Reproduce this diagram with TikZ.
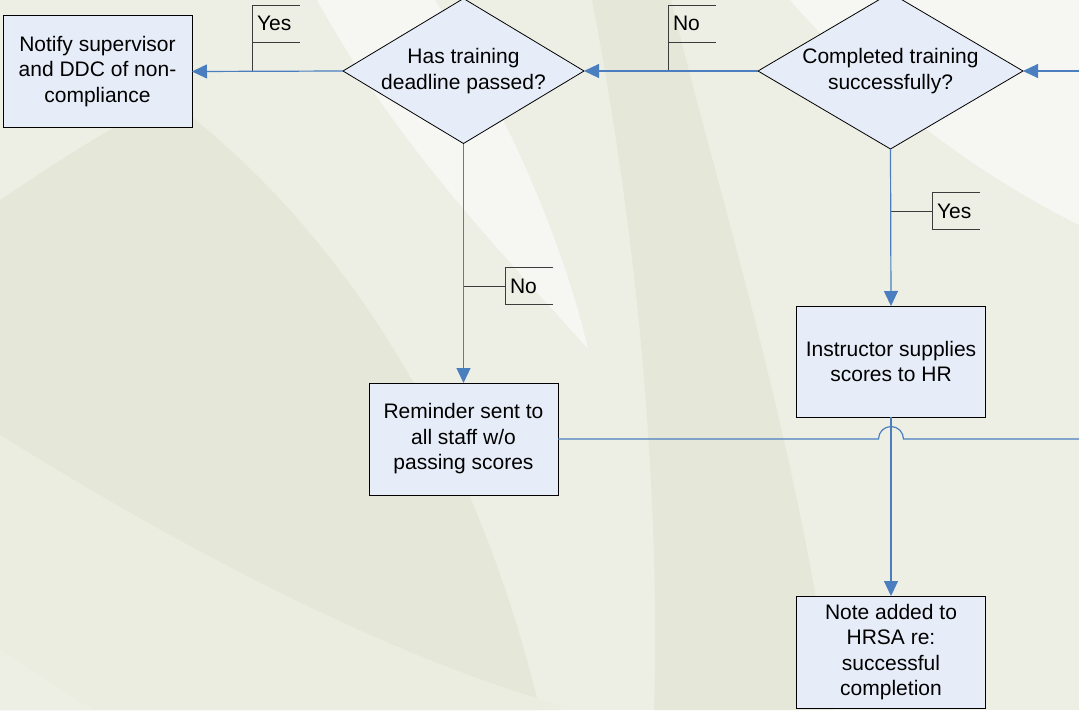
\documentclass[tikz,border=0pt]{standalone}
\usepackage{fontspec}
\setmainfont{Liberation Sans}
\usepackage{tikz}
\usetikzlibrary{shapes.geometric, arrows.meta}

\definecolor{boxfill}{HTML}{E7EDF8}
\definecolor{linkblue}{HTML}{4A7EBF}
\definecolor{flaggrey}{HTML}{3C3C3C}
\definecolor{bglight}{HTML}{EDEFE5}
\definecolor{bgdark}{HTML}{E5E8D9}
\definecolor{bgmid}{HTML}{EAEDE0}
\definecolor{bgwhite}{HTML}{F6F6F2}

\begin{document}
\begin{tikzpicture}[x=1pt, y=-1pt, font=\fontsize{21}{25.5}\selectfont,
    box/.style={draw, fill=boxfill, line width=1pt, minimum width=189pt, minimum height=112pt, inner sep=0pt, outer sep=0pt, align=center},
    decision/.style={draw, fill=boxfill, line width=0.8pt, diamond, aspect=1.68, inner sep=0pt, outer sep=0pt, align=center},
    flag/.style={minimum width=48pt, minimum height=37pt, text width=38pt, inner xsep=5pt, inner ysep=0pt, outer sep=0pt, align=left},
    flagline/.style={draw=flaggrey, line width=0.9pt},
    link/.style={draw=linkblue, line width=1.2pt, -{Triangle[length=15pt, width=14pt]}},
    line/.style={draw=linkblue, line width=1.2pt}]
        \path[use as bounding box, clip] (0,0) rectangle (1079,710);

        % background swooshes
        \fill[bglight] (0,0) rectangle (1079,710);
        \fill[bgdark] (170,100) .. controls (330,220) and (470,420) .. (540,710) -- (0,710) -- (0,200) .. controls (60,160) and (120,120) .. (170,100) -- cycle;
        \fill[bgmid] (0,435) .. controls (200,560) and (400,660) .. (560,705) -- (560,710) -- (0,710) -- cycle;
        \fill[bglight] (0,650) .. controls (30,670) and (60,690) .. (95,710) -- (0,710) -- cycle;
        \fill[bgdark] (592,0) .. controls (640,250) and (660,500) .. (654,710) -- (833,710) .. controls (800,450) and (720,200) .. (671,0) -- cycle;
        \fill[bgwhite] (317,0) .. controls (400,150) and (500,250) .. (588,349) .. controls (560,230) and (500,100) .. (435,0) -- cycle;
        \fill[bgwhite] (790,0) .. controls (860,80) and (950,160) .. (1079,225) -- (1079,0) -- cycle;

        % shapes
        \node[box] (Notify) at (97.5,71.5) {Notify supervisor\\and DDC of non-\\compliance};
        \node[decision, minimum width=241pt, minimum height=145pt] (Deadline) at (463.5,71) {Has training\\deadline passed?};
        \node[decision, minimum width=265pt, minimum height=156pt] (Done) at (890.5,71) {Completed training\\successfully?};
        \node[box, minimum height=111pt] (Scores) at (891,361.5) {Instructor supplies\\scores to HR};
        \node[box] (Remind) at (463.5,439) {Reminder sent to\\all staff w/o\\passing scores};
        \node[box] (Note) at (891,652) {Note added to\\HRSA re:\\successful\\completion};

        % yes/no labels
        \node[flag] (Yes1) at (276,23.5) {Yes};
        \node[flag] (No1) at (692,23.5) {No};
        \node[flag] (No2) at (529,286) {No};
        \node[flag] (Yes2) at (956,211) {Yes};

        \draw[flagline] (Yes1.north east) -- (Yes1.north west) -- (Yes1.west |- Deadline.west);
        \draw[flagline] (Yes1.south west) -- (Yes1.south east);
        \draw[flagline] (No1.north east) -- (No1.north west) -- (No1.west |- Done.west);
        \draw[flagline] (No1.south west) -- (No1.south east);
        \draw[flagline] (Deadline.south |- No2.west) -- (No2.west);
        \draw[flagline] (No2.north east) -- (No2.north west) -- (No2.south west) -- (No2.south east);
        \draw[flagline] (Done.south |- Yes2.west) -- (Yes2.west);
        \draw[flagline] (Yes2.north east) -- (Yes2.north west) -- (Yes2.south west) -- (Yes2.south east);

        % connectors
        \coordinate (In) at (1079,71);
        \coordinate (Out) at (1079,439);
        \coordinate (Hop) at (Scores.south |- Remind.east);

        \draw[link] (Deadline.west) -- (Notify.east);
        \draw[link] (Done.west) -- (Deadline.east);
        \draw[link] (In) -- (Done.east);
        \draw[link] (Deadline.south) -- (Remind.north);
        \draw[link] (Done.south) -- (Scores.north);
        \draw[link] (Scores.south) -- (Note.north);
        \draw[line] (Remind.east) -- ([xshift=-12.5pt]Hop)
            .. controls ([xshift=-12.5pt, yshift=6.9pt]Hop) and ([xshift=-6.9pt, yshift=12.5pt]Hop) .. ([yshift=12.5pt]Hop)
            .. controls ([xshift=6.9pt, yshift=12.5pt]Hop) and ([xshift=12.5pt, yshift=6.9pt]Hop) .. ([xshift=12.5pt]Hop)
            -- (Out);
    \end{tikzpicture}
\end{document}
